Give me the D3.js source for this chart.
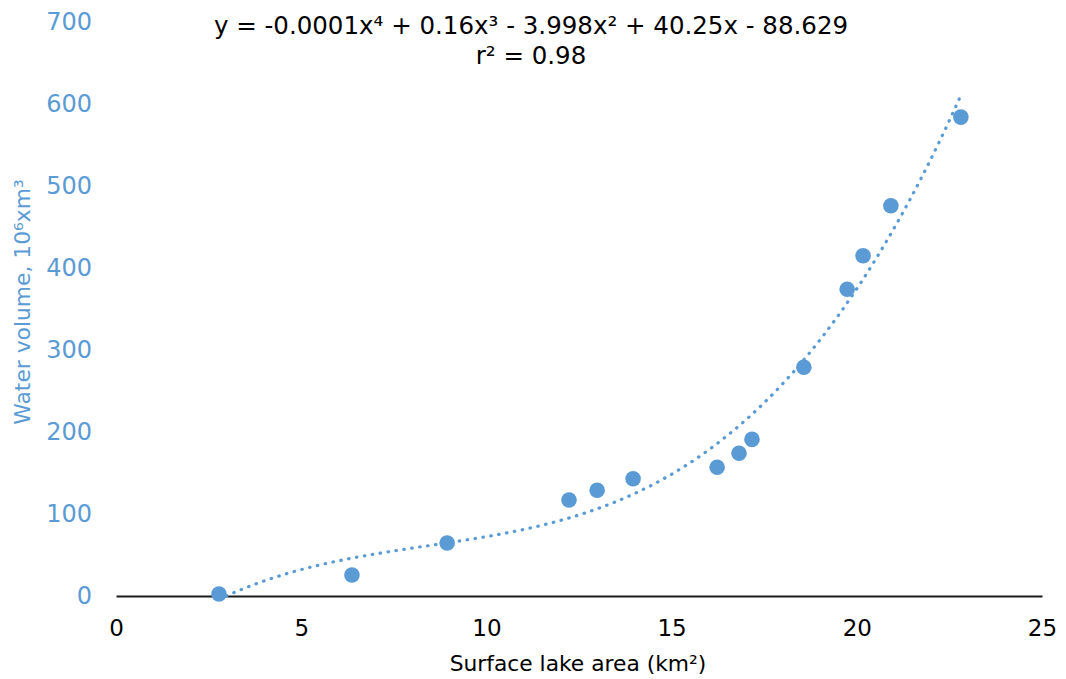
<!DOCTYPE html>
<html>
<head>
<meta charset="utf-8">
<script src="https://cdn.jsdelivr.net/npm/d3@7"></script>
<style>
  html, body { margin: 0; padding: 0; background: #fff; }
  svg { display: block; }
  text { font-family: "DejaVu Sans", Verdana, sans-serif; }
</style>
</head>
<body>
<svg id="chart" width="1066" height="679"></svg>
<script>
// ---- data ----
const areaKm2 = [2.78, 6.37, 8.94, 12.23, 12.99, 13.96, 16.23, 16.82, 17.17, 18.57, 19.74, 20.17, 20.92, 22.81];
const volume  = [2.4, 25.6, 64.6, 117, 129, 143, 157, 174, 191, 279, 374, 415, 476, 584];
const trendDegree = 4;
const xTicks = [0, 5, 10, 15, 20, 25];
const yTicks = [0, 100, 200, 300, 400, 500, 600, 700];
const equationText = "y = -0.0001x\u2074 + 0.16x\u00b3 - 3.998x\u00b2 + 40.25x - 88.629";
const r2Text = "r\u00b2 = 0.98";
const xTitle = "Surface lake area (km\u00b2)";
const yTitle = "Water volume, 10\u2076xm\u00b3";

const blue = "#5B9BD5";
const svg = d3.select("#chart");

const x = d3.scaleLinear().domain([0, 25]).range([116, 1042]);
const y = d3.scaleLinear().domain([0, 700]).range([596, 22]);

// least-squares polynomial trendline (as the spreadsheet computes it)
function polyFit(xs, ys, deg) {
  const mx = d3.mean(xs);
  const n = deg + 1;
  const A = Array.from({length: n}, () => new Array(n + 1).fill(0));
  xs.forEach((xv, k) => {
    const t = xv - mx;
    const pw = Array.from({length: 2 * n}, (_, p) => Math.pow(t, p));
    for (let i = 0; i < n; i++) {
      for (let j = 0; j < n; j++) A[i][j] += pw[i + j];
      A[i][n] += pw[i] * ys[k];
    }
  });
  for (let c = 0; c < n; c++) {
    let piv = c;
    for (let r = c + 1; r < n; r++) if (Math.abs(A[r][c]) > Math.abs(A[piv][c])) piv = r;
    [A[c], A[piv]] = [A[piv], A[c]];
    for (let r = 0; r < n; r++) {
      if (r === c) continue;
      const f = A[r][c] / A[c][c];
      for (let k = c; k <= n; k++) A[r][k] -= f * A[c][k];
    }
  }
  const coef = A.map((row, i) => row[n] / row[i]);
  return xv => coef.reduce((s, c, i) => s + c * Math.pow(xv - mx, i), 0);
}
const trend = polyFit(areaKm2, volume, trendDegree);

// y tick labels (no axis line)
const yAxis = d3.axisLeft(y).tickValues(yTicks).tickSize(0).tickPadding(0).tickFormat(d3.format("d"));
const gy = svg.append("g").attr("transform", "translate(92,0)").call(yAxis);
gy.select(".domain").remove();
gy.selectAll("text").attr("fill", blue).style("font-size", "24px")
  .style("font-family", "'DejaVu Sans', Verdana, sans-serif");

// x axis
const xAxis = d3.axisBottom(x).tickValues(xTicks).tickSize(0).tickPadding(24).tickFormat(d3.format("d"));
const gx = svg.append("g").attr("transform", `translate(0,${y(0)})`).call(xAxis);
gx.select(".domain").attr("stroke", "#1a1a1a").attr("stroke-width", 2);
gx.selectAll("text").attr("fill", "#000").style("font-size", "23px")
  .style("font-family", "'DejaVu Sans', Verdana, sans-serif");

// trendline
const xMin = d3.min(areaKm2), xMax = d3.max(areaKm2);
const trendX = d3.range(0, 201).map(i => xMin + (xMax - xMin) * i / 200);
const trendPts = trendX.map(xv => [xv, trend(xv)]).filter(p => p[1] >= 0);
svg.append("path")
  .datum(trendPts)
  .attr("fill", "none")
  .attr("stroke", blue)
  .attr("stroke-width", 3.2)
  .attr("stroke-linecap", "round")
  .attr("stroke-dasharray", "0.5 7.5")
  .attr("d", d3.line().x(d => x(d[0])).y(d => y(d[1])));

// points
svg.append("g").selectAll("circle")
  .data(areaKm2.map((a, i) => [a, volume[i]]))
  .join("circle")
  .attr("cx", d => x(d[0]))
  .attr("cy", d => y(d[1]))
  .attr("r", 7.8)
  .attr("fill", blue);

// equation
svg.append("text").attr("x", 531).attr("y", 34).attr("text-anchor", "middle")
  .style("font-size", "24.5px").attr("fill", "#000").text(equationText);
svg.append("text").attr("x", 531).attr("y", 64).attr("text-anchor", "middle")
  .style("font-size", "24.5px").attr("fill", "#000").text(r2Text);

// axis titles
svg.append("text").attr("x", 578).attr("y", 671).attr("text-anchor", "middle")
  .style("font-size", "21.8px").attr("fill", "#000").text(xTitle);
svg.append("text").attr("transform", "translate(30,302) rotate(-90)").attr("text-anchor", "middle")
  .style("font-size", "21.8px").attr("fill", blue).text(yTitle);
</script>
</body>
</html>
